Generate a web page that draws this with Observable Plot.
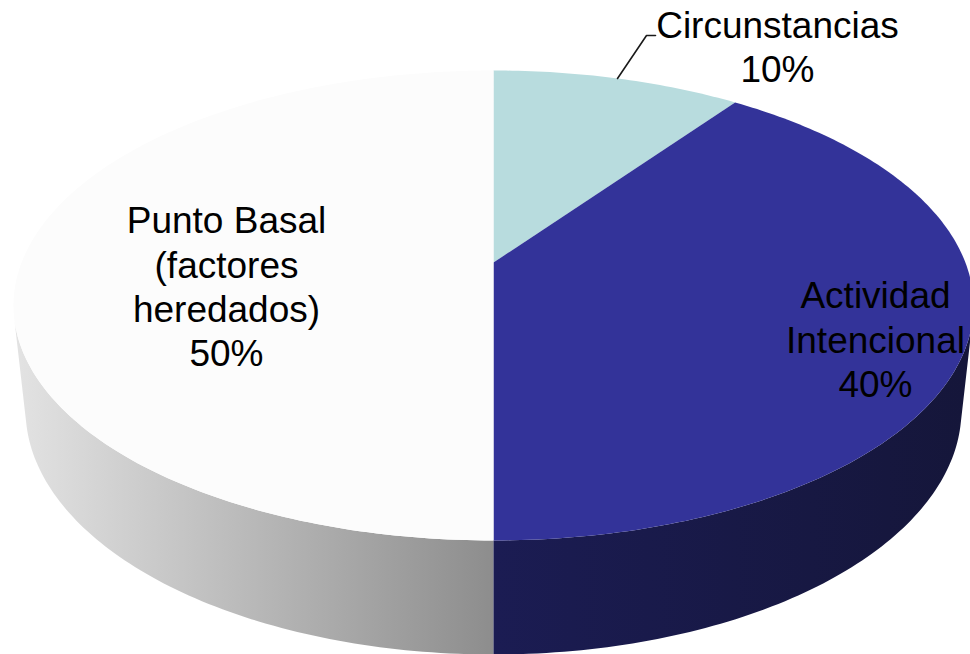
<!DOCTYPE html>
<html lang="es">
<head>
<meta charset="utf-8">
<style>html,body{margin:0;padding:0;background:#fff}svg{display:block}</style>
<script src="https://cdn.jsdelivr.net/npm/d3@7"></script>
<script src="https://cdn.jsdelivr.net/npm/@observablehq/plot@0.6"></script>
</head>
<body>
<script>
// Data
const categories = ["Circunstancias", "Actividad Intencional", "Punto Basal"];
const shares = [10, 40, 50];
const labelTexts = ["Circunstancias\n10%", "Actividad\nIntencional\n40%", "Punto Basal\n(factores\nheredados)\n50%"];

// Style and layout, kept apart from the data
const faceColors = ["#b8dcde", "#333399", "#fcfcfc"];
const labelAnchors = [[777, 45], [875, 338], [226, 285]];
const leader = [[617, 78], [646, 35], [655, 35]];
const topRim = {cx: 493, cy: 305, rx: 480, ry: 235};
const baseRim = {cx: 493, cy: 409, rx: 468, ry: 245};
const tilt = 0.183; // perspective of the disc

// Point on a rim, for a cumulative share of the circle (0 = back, clockwise)
function rimPoint(rim, share) {
  const a = share / 100 * 2 * Math.PI, u = Math.sin(a), v = Math.cos(a), d = 1 + tilt * v;
  return {
    x: rim.cx + rim.rx * Math.sqrt(1 - tilt * tilt) * u / d,
    y: rim.cy - rim.ry * (v + tilt) / d
  };
}
function arc(rim, from, to) {
  const n = Math.max(2, Math.ceil(Math.abs(to - from) * 4)), pts = [];
  for (let i = 0; i <= n; i++) pts.push(rimPoint(rim, from + (to - from) * i / n));
  return pts;
}
const center = {x: topRim.cx, y: topRim.cy - topRim.ry * tilt};

// Top faces, built from the shares
const ends = d3.cumsum(shares);
const faces = categories.flatMap((c, i) => {
  const from = i ? ends[i - 1] : 0, to = ends[i];
  return [center, ...arc(topRim, from, to)].map(p => ({...p, category: c}));
});

// Side walls: the visible front, from the front seam out to each silhouette
const seam = ends[1];
const rightWall = [...arc(topRim, seam, 29), ...arc(baseRim, 29, seam)];
const leftWall = [...arc(topRim, seam, 71), ...arc(baseRim, 71, seam)];

const labels = labelTexts.map((text, i) => ({text, x: labelAnchors[i][0], y: labelAnchors[i][1]}));

const gradients = () => {
  const svg = d3.create("svg:defs");
  const add = (id, x1, x2, stops) => {
    const g = svg.append("linearGradient").attr("id", id).attr("gradientUnits", "userSpaceOnUse")
      .attr("x1", x1).attr("x2", x2).attr("y1", 0).attr("y2", 0);
    stops.forEach(([o, c]) => g.append("stop").attr("offset", o).attr("stop-color", c));
  };
  add("wallLeft", 20, 493, [[0, "#e2e2e2"], [1, "#8d8d8d"]]);
  add("wallRight", 493, 965, [[0, "#1b1c53"], [1, "#15163a"]]);
  return svg.node();
};

document.body.append(Plot.plot({
  width: 970,
  height: 654,
  margin: 0,
  style: {background: "#fff"},
  x: {axis: null, domain: [0, 970], range: [0, 970]},
  y: {axis: null, domain: [0, 654], range: [0, 654]},
  color: {type: "ordinal", domain: categories, range: faceColors},
  marks: [
    gradients,
    Plot.line(leftWall, {x: "x", y: "y", fill: "url(#wallLeft)", stroke: "none"}),
    Plot.line(rightWall, {x: "x", y: "y", fill: "url(#wallRight)", stroke: "none"}),
    Plot.line(faces, {x: "x", y: "y", z: "category", fill: "category", stroke: "none"}),
    Plot.line(leader, {x: d => d[0], y: d => d[1], stroke: "#1a1a1a", strokeWidth: 1.6}),
    Plot.text(labels, {
      x: "x", y: "y", text: "text",
      fontFamily: "Liberation Sans", fontSize: 37, lineHeight: 1.2,
      fill: "#000", textAnchor: "middle"
    })
  ]
}));
</script>
</body>
</html>
